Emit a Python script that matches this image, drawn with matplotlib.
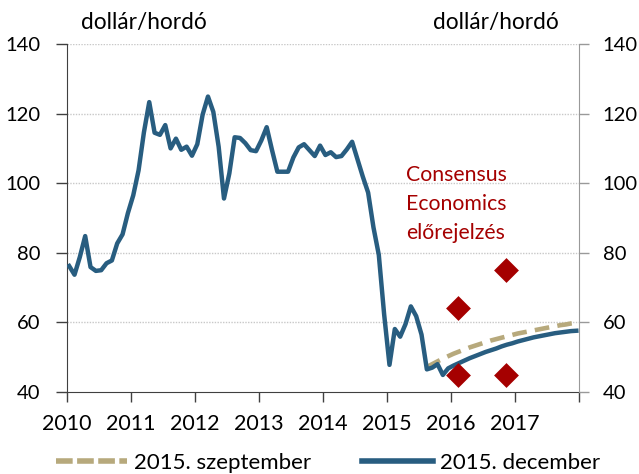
import matplotlib
matplotlib.use("Agg")
import matplotlib.pyplot as plt
from matplotlib.lines import Line2D
import numpy as np

plt.rcParams['font.family'] = ['Lato', 'DejaVu Sans']

# Brent monthly average prices, Jan 2010 - Nov 2015 (USD/barrel)
history = [
    76.2, 73.7, 78.8, 84.8, 75.9, 74.8, 75.0, 77.0, 77.8, 82.7, 85.3, 91.4,   # 2010
    96.5, 103.7, 114.6, 123.3, 114.5, 113.9, 116.7, 110.0, 112.8, 109.6, 110.5, 107.9,  # 2011
    111.2, 119.7, 124.9, 120.5, 110.5, 95.6, 102.8, 113.2, 113.0, 111.5, 109.5, 109.2,  # 2012
    112.3, 116.1, 109.5, 103.3, 103.3, 103.3, 107.4, 110.3, 111.2, 109.5, 107.8, 110.8,  # 2013
    108.1, 108.9, 107.5, 107.8, 109.7, 111.9, 106.9, 101.9, 97.3, 87.3, 79.4, 62.3,  # 2014
    47.8, 58.1, 55.9, 59.5, 64.6, 61.8, 56.5, 46.5, 47.0, 48.0, 44.9,  # 2015 Jan-Nov
]
history_start = 2010  # January 2010

# December 2015 futures path, Dec 2015 - Dec 2017
december = [
    46.8,
    47.6, 48.3, 49.0, 49.7, 50.3, 50.9, 51.5, 52.0, 52.5, 53.1, 53.6, 54.0,
    54.5, 54.9, 55.3, 55.7, 56.0, 56.3, 56.6, 56.9, 57.1, 57.3, 57.5, 57.6,
]
december_start = (2015, 11)  # (year, month index 0-based)

# September 2015 futures path, Aug 2015 - Dec 2017
september = [
    47.2, 48.0, 48.8, 49.6, 50.3,
    51.0, 51.6, 52.2, 52.8, 53.3, 53.8, 54.3, 54.8, 55.2, 55.6, 56.0, 56.4,
    56.8, 57.1, 57.4, 57.7, 58.0, 58.3, 58.6, 58.9, 59.2, 59.4, 59.7, 59.9,
]
september_start = (2015, 7)

# Consensus Economics forecasts
consensus_x = [2016.11, 2016.11, 2016.86, 2016.86]
consensus_y = [64.0, 44.9, 75.0, 44.9]

year_ticks = list(range(2010, 2019))
year_labels = [str(y) for y in range(2010, 2018)] + [""]
y_ticks = [40, 60, 80, 100, 120, 140]

BLUE = '#285D80'
TAN = '#B7A97C'
RED = '#A50000'


def month_x(year, m, n):
    return np.array([year + (m + i + 0.5) / 12.0 for i in range(n)])


hx = month_x(history_start, 0, len(history))
dx = month_x(december_start[0], december_start[1], len(december))
sx = month_x(september_start[0], september_start[1], len(september))

blue_x = np.concatenate([hx, dx])
blue_y = np.concatenate([history, december])

fig = plt.figure(figsize=(6.39, 4.74), dpi=100)
ax = fig.add_axes([66.5 / 639, 1 - 392 / 474, (579 - 66.5) / 639, (392 - 44) / 474])

ax.set_xlim(2010, 2018)
ax.set_ylim(40, 140)

for v in y_ticks[1:]:
    ax.axhline(v, color='#C8C8C8', lw=1.0, ls=(0, (1, 1)), zorder=0)

ax.plot(sx, september, color=TAN, lw=3.3, dashes=(3.2, 1.8), zorder=3)
ax.plot(blue_x, blue_y, color=BLUE, lw=3.2, solid_joinstyle='round', zorder=4)
ax.scatter(consensus_x, consensus_y, marker='D', s=160, color=RED, zorder=5, linewidths=0)

for txt, ypix in [("Consensus", 175), ("Economics", 204), ("előrejelzés", 233)]:
    fig.text(456 / 639, 1 - ypix / 474, txt, color=RED, fontsize=15.3,
             ha='center', va='center')

ax.set_xticks(year_ticks)
ax.set_xticklabels(year_labels)
ax.set_yticks(y_ticks)
ax.tick_params(axis='x', direction='out', length=7, width=1, color='#404040',
               labelsize=15.5, pad=9)
ax.tick_params(axis='y', direction='out', length=8, width=1, color='#404040',
               labelsize=14.5, pad=11)

for s in ['top', 'right']:
    ax.spines[s].set_visible(False)
ax.spines['left'].set_color('#404040')
ax.spines['bottom'].set_color('#404040')

ax2 = ax.twinx()
ax2.set_ylim(40, 140)
ax2.set_yticks(y_ticks)
ax2.tick_params(axis='y', direction='out', length=7, width=1, color='#999999',
                labelsize=14.5, pad=10)
for s in ['top', 'left', 'bottom']:
    ax2.spines[s].set_visible(False)
ax2.spines['right'].set_color('#999999')

fig.text(144 / 639, 1 - 23 / 474, "dollár/hordó", fontsize=16.3, ha='center', va='center')
fig.text(496 / 639, 1 - 23 / 474, "dollár/hordó", fontsize=16.3, ha='center', va='center')

handles = [
    Line2D([], [], color=TAN, lw=4, dashes=(3.0, 0.8)),
    Line2D([], [], color=BLUE, lw=4),
]
fig.legend(handles, ["2015. szeptember", "2015. december"], loc='center',
           bbox_to_anchor=(328 / 639, 1 - 463 / 474), ncol=2, frameon=False,
           fontsize=16, handlelength=3.2, handletextpad=0.3, columnspacing=2.3,
           borderpad=0, borderaxespad=0)

fig.savefig("out.png", dpi=100)
